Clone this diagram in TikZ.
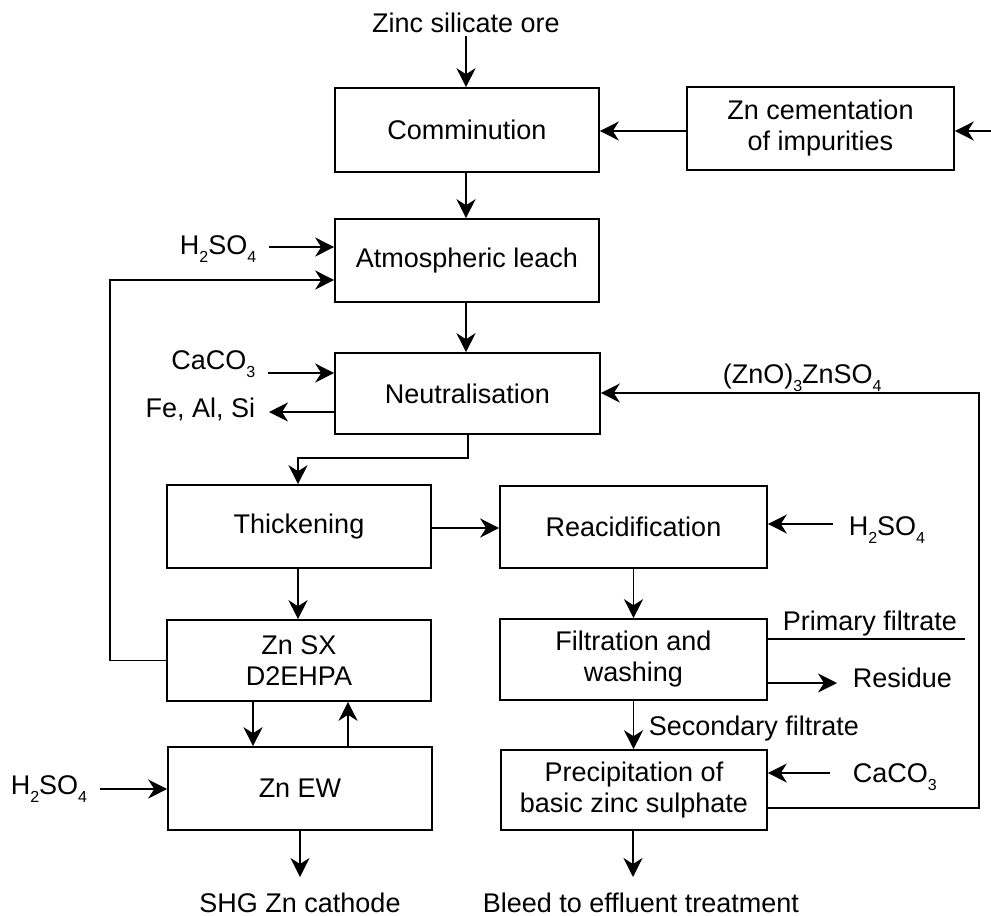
\documentclass[tikz,border=0pt]{standalone}
\usepackage{fontspec}
\setmainfont{Liberation Sans}
\usetikzlibrary{arrows.meta}
\newcommand\chsub[1]{\raisebox{-8pt}{\fontsize{16}{16}\selectfont #1}}
\begin{document}
\begin{tikzpicture}[x=1pt,y=-1pt, line width=1.6pt,
  box/.style={draw, rectangle, inner sep=0pt, align=center, font=\fontsize{27}{31}\selectfont},
  lbl/.style={inner sep=0pt, font=\fontsize{27}{31}\selectfont},
  arr/.style={-{Stealth[length=19pt,width=19pt,inset=6pt]}}]
\useasboundingbox (0,0) rectangle (991,916);

% process boxes
\node[box, minimum width=264pt, minimum height=84pt] (comm) at (467,130) {Comminution};
\node[box, minimum width=267pt, minimum height=83pt] (cem) at (820.5,128.5) {Zn cementation\\ of impurities};
\node[box, minimum width=264pt, minimum height=83pt] (atm) at (467,260.5) {Atmospheric leach};
\node[box, minimum width=265pt, minimum height=81pt] (neut) at (467.5,393.5) {Neutralisation};
\node[box, minimum width=264pt, minimum height=83pt] (thick) at (299,526.5) {Thickening};
\node[box, minimum width=267pt, minimum height=82pt] (reac) at (633.5,527) {Reacidification};
\node[box, minimum width=264pt, minimum height=81pt] (zsx) at (299,660.5) {Zn SX\\D2EHPA};
\node[box, minimum width=267pt, minimum height=81pt] (filt) at (633.5,659.5) {Filtration and\\washing};
\node[box, minimum width=264pt, minimum height=83pt] (zew) at (300,788.5) {Zn EW};
\node[box, minimum width=266pt, minimum height=80pt] (prec) at (634,790) {Precipitation of\\basic zinc sulphate};

% labels
\node[lbl, anchor=base] (ore) at (466,32) {Zinc silicate ore};
\node[lbl, anchor=base east] (h1) at (257,254) {H\chsub{2}SO\chsub{4}};
\node[lbl, anchor=base east] (ca1) at (256,369) {CaCO\chsub{3}};
\node[lbl, anchor=base east] (fe) at (256,417) {Fe, Al, Si};
\node[lbl, anchor=base west] (zno) at (722,383) {(ZnO)\chsub{3}ZnSO\chsub{4}};
\node[lbl, anchor=base west] (h2) at (848,535) {H\chsub{2}SO\chsub{4}};
\node[lbl, anchor=base west] (pft) at (782,630) {Primary filtrate};
\node[lbl, anchor=base west] (rst) at (852,687) {Residue};
\node[lbl, anchor=base west] (sft) at (648,735) {Secondary filtrate};
\node[lbl, anchor=base west] (ca2) at (852,782) {CaCO\chsub{3}};
\node[lbl, anchor=base west] (h3) at (10,794) {H\chsub{2}SO\chsub{4}};
\node[lbl, anchor=base] (shg) at (300,912) {SHG Zn cathode};
\node[lbl, anchor=base west] (bl) at (482,912) {Bleed to effluent treatment};

% free ends and bends
\coordinate (cy) at (0,131);
\coordinate (rin) at (991,131);
\coordinate (h1a) at (269,247);
\coordinate (rc) at (110,280);
\coordinate (ca1a) at (268,373);
\coordinate (fea) at (269,412);
\coordinate (e1) at (468,458);
\coordinate (e2) at (298,458);
\coordinate (ty) at (0,528);
\coordinate (h2a) at (833,524);
\coordinate (d1) at (253,0);
\coordinate (u1) at (348,0);
\coordinate (h3a) at (100,789);
\coordinate (shga) at (300,877);
\coordinate (pf) at (965,639);
\coordinate (rs) at (837,683);
\coordinate (ca2a) at (830,773);
\coordinate (l1) at (979,808);
\coordinate (l2) at (979,393);
\coordinate (bla) at (633,877);

% connectors
\draw[arr] ([yshift=-3pt]ore.south) -- (comm.north -| ore.south);
\draw[arr] (rin) -- (rin -| cem.east);
\draw[arr] (cem.west |- cy) -- (comm.east |- cy);
\draw[arr] (comm.south -| ore.south) -- (atm.north -| ore.south);
\draw[arr] (h1a) -- (h1a -| atm.west);
\draw[arr] (zsx.west) -| (rc) -- (rc -| atm.west);
\draw[arr] (atm.south -| ore.south) -- (neut.north -| ore.south);
\draw[arr] (ca1a) -- (ca1a -| neut.west);
\draw[arr] (fea -| neut.west) -- (fea);
\draw[arr] (neut.south -| e1) -- (e1) -- (e2) -- (e2 |- thick.north);
\draw[arr] (thick.east |- ty) -- (reac.west |- ty);
\draw[arr] (h2a) -- (h2a -| reac.east);
\draw[arr] (reac.south) -- (reac.south |- filt.north);
\draw[arr] (thick.south -| e2) -- (zsx.north -| e2);
\draw[arr] (zsx.south -| d1) -- (zew.north -| d1);
\draw[arr] (zew.north -| u1) -- (zsx.south -| u1);
\draw[arr] (h3a) -- (h3a -| zew.west);
\draw[arr] (zew.south) -- (shga);
\draw (filt.east |- pf) -- (pf);
\draw[arr] (filt.east |- rs) -- (rs);
\draw[arr] (filt.south) -- (filt.south |- prec.north);
\draw[arr] (ca2a) -- (ca2a -| prec.east);
\draw[arr] (prec.east |- l1) -- (l1) -- (l2) -- (l2 -| neut.east);
\draw[arr] (prec.south -| bla) -- (bla);
\end{tikzpicture}
\end{document}
